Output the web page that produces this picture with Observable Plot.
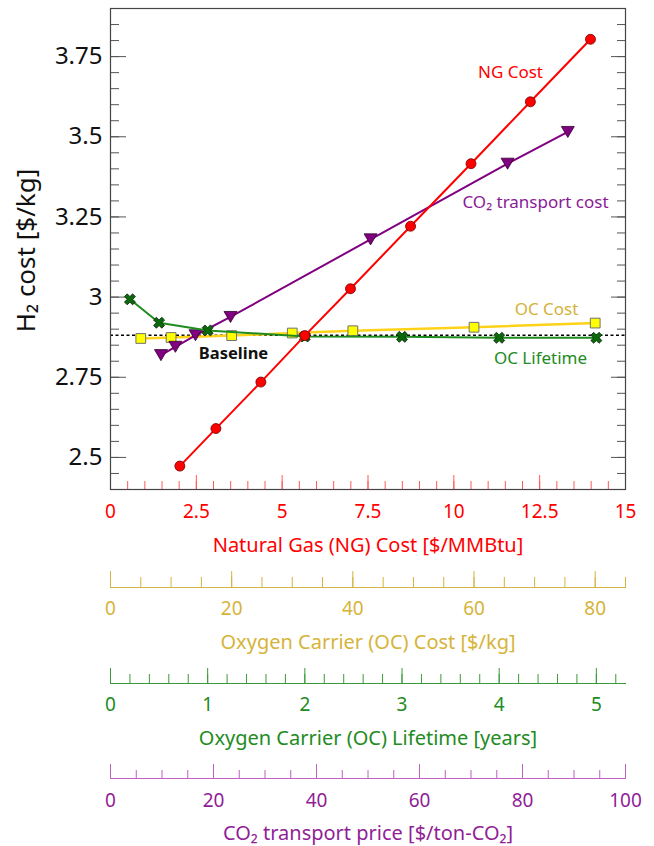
<!DOCTYPE html>
<html><head><meta charset="utf-8">
<script src="https://cdn.jsdelivr.net/npm/d3@7"></script>
<script src="https://cdn.jsdelivr.net/npm/@observablehq/plot@0.6"></script>
<style>
html,body{margin:0;padding:0;background:#fff;overflow:hidden}
#wrap{position:relative;width:654px;height:846px}
</style></head><body><div id="wrap"></div>
<script>
// ---- data ----
const ngCost   = [2.02, 3.07, 4.38, 5.66, 6.99, 8.74, 10.5, 12.23, 13.98];
const ngH2     = [2.473, 2.590, 2.735, 2.880, 3.026, 3.221, 3.416, 3.609, 3.804];
const ocCost   = [5, 10, 20, 30, 40, 60, 80];
const ocH2     = [2.871, 2.874, 2.880, 2.888, 2.895, 2.906, 2.919];
const ocLife   = [0.2, 0.5, 1, 2, 3, 4, 5];
const lifeH2   = [2.993, 2.920, 2.896, 2.877, 2.876, 2.873, 2.873];
const co2Price = [9.8, 12.6, 16.5, 23.3, 50.5, 77.1, 88.8];
const co2H2    = [2.819, 2.845, 2.881, 2.938, 3.180, 3.416, 3.515];
const baselineH2 = 2.881;
const yTicks    = [2.5, 2.75, 3, 3.25, 3.5, 3.75];
const ngTicks   = [0, 2.5, 5, 7.5, 10, 12.5, 15];
const ocTicks   = [0, 20, 40, 60, 80];
const lifeTicks = [0, 1, 2, 3, 4, 5];
const co2Ticks  = [0, 20, 40, 60, 80, 100];
const yMinor    = d3.range(2.45, 3.86, 0.05);
const ngMinor   = d3.range(0, 15.01, 0.5);
const ocMinor   = d3.range(0, 85.01, 5);
const lifeMinor = d3.range(0, 5.21, 0.2);
const co2Minor  = d3.range(0, 100.01, 5);

const FONT = '"Noto Sans", "Open Sans", sans-serif';
const W = 654, MH = 565;
const M = {marginLeft: 110, marginRight: 29, marginTop: 8, marginBottom: 76};
const frameW = W - M.marginLeft - M.marginRight;
const frameH = MH - M.marginTop - M.marginBottom;
const yDomain = [2.4, 3.9];
const RED = "#ff0000";
const TICKFS = 19, TITLEFS = 20, LABELFS = 17;
const wrap = document.getElementById("wrap");
const C = {textAnchor: "middle", lineAnchor: "middle"};

const tbl = (xs, ys) => xs.map((x, i) => ({x, y: ys[i]}));

const downTriangle = {draw(ctx, size) {
  const r = Math.sqrt(size / Math.PI), w = r * 1.08, h = r * 0.92;
  ctx.moveTo(-w, -h); ctx.lineTo(w, -h); ctx.lineTo(0, h); ctx.closePath();
}};
const xCross = {draw(ctx, size) {
  const r = Math.sqrt(size / Math.PI), a = r * 1.0, t = r * 0.34;
  const pts = [[t,a],[t,t],[a,t],[a,-t],[t,-t],[t,-a],[-t,-a],[-t,-t],[-a,-t],[-a,t],[-t,t],[-t,a]];
  pts.forEach(([x, y], i) => {
    const px = (x - y) / Math.SQRT2, py = (x + y) / Math.SQRT2;
    i ? ctx.lineTo(px, py) : ctx.moveTo(px, py);
  });
  ctx.closePath();
}};

// ---- main chart: frame, axes, baseline, labels ----
const main = Plot.plot({
  width: W, height: MH, ...M,
  style: {fontFamily: FONT, background: "white", overflow: "visible"},
  x: {domain: [0, 15], axis: null},
  y: {domain: yDomain, axis: null},
  marks: [
    Plot.ruleY([baselineH2], {stroke: "#000", strokeWidth: 1.3, strokeDasharray: "3,2.5"}),
    Plot.tickY(yMinor, {y: d => d, stroke: "#555", insetRight: frameW - 9}),
    Plot.tickY(yTicks, {y: d => d, stroke: "#555", insetRight: frameW - 16}),
    Plot.tickY(yMinor, {y: d => d, stroke: "#555", insetLeft: frameW - 8}),
    Plot.tickY(yTicks, {y: d => d, stroke: "#555", insetLeft: frameW - 14}),
    Plot.tickX(ngMinor, {x: d => d, stroke: "#ff5a5a", insetTop: frameH - 8}),
    Plot.tickX(ngTicks, {x: d => d, stroke: "#ff5a5a", insetTop: frameH - 14}),
    Plot.frame({stroke: "#444", strokeWidth: 1.2}),
    Plot.text(yTicks, {y: d => d, frameAnchor: "left", dx: -8, textAnchor: "end", lineAnchor: "middle", text: d => String(d), fontSize: 24, fill: "#111"}),
    Plot.text(["H₂ cost [$/kg]"], {...C, frameAnchor: "left", dx: -84, dy: 1.5, rotate: -90, fontSize: 26, fill: "#111"}),
    Plot.text(ngTicks, {...C, x: d => d, frameAnchor: "bottom", dy: 22, text: d => String(d), fill: RED, fontSize: TICKFS}),
    Plot.text(["Natural Gas (NG) Cost [$/MMBtu]"], {...C, frameAnchor: "bottom", dy: 56, fill: RED, fontSize: TITLEFS}),
    Plot.text(["NG Cost"], {...C, frameAnchor: "top-left", dx: 400, dy: 64, fill: RED, fontSize: LABELFS}),
    Plot.text(["CO₂ transport cost"], {...C, frameAnchor: "top-left", dx: 425, dy: 194, fill: "#8a1a96", fontSize: LABELFS}),
    Plot.text(["OC Cost"], {...C, frameAnchor: "top-left", dx: 436, dy: 301.5, fill: "#d4b23a", fontSize: LABELFS}),
    Plot.text(["OC Lifetime"], {...C, frameAnchor: "top-left", dx: 430, dy: 350.5, fill: "#228b22", fontSize: LABELFS}),
    Plot.text(["Baseline"], {...C, frameAnchor: "top-left", dx: 123, dy: 345.5, fill: "#111", fontSize: 16.5, fontWeight: "bold"})
  ]
});
main.style.position = "absolute"; main.style.left = "0px"; main.style.top = "0px";
wrap.appendChild(main);

// ---- series overlays (each with its own x scale) ----
function overlay(xDomain, marks) {
  const svg = Plot.plot({
    width: W, height: MH, ...M,
    style: {fontFamily: FONT, background: "transparent", overflow: "visible"},
    x: {domain: xDomain, axis: null},
    y: {domain: yDomain, axis: null},
    marks
  });
  svg.style.position = "absolute"; svg.style.left = "0px"; svg.style.top = "0px";
  svg.style.pointerEvents = "none";
  wrap.appendChild(svg);
}
const ocData = tbl(ocCost, ocH2), co2Data = tbl(co2Price, co2H2), lifeData = tbl(ocLife, lifeH2), ngData = tbl(ngCost, ngH2);
overlay([0, 85], [
  Plot.line(ocData, {x: "x", y: "y", stroke: "#ffd21a", strokeWidth: 2.5}),
  Plot.dot(ocData, {x: "x", y: "y", symbol: "square", r: 5.5, fill: "#ffff00", stroke: "#707070", strokeWidth: 1})
]);
overlay([0, 100], [
  Plot.line(co2Data, {x: "x", y: "y", stroke: "#800080", strokeWidth: 2}),
  Plot.dot(co2Data, {x: "x", y: "y", symbol: downTriangle, r: 6, fill: "#800080", stroke: "#2e002e", strokeWidth: 0.8})
]);
overlay([0, 5.3], [
  Plot.line(lifeData, {x: "x", y: "y", stroke: "#1e8c1e", strokeWidth: 2}),
  Plot.dot(lifeData, {x: "x", y: "y", symbol: xCross, r: 5.8, fill: "#0a6a0a", stroke: "#0c200c", strokeWidth: 0.8})
]);
overlay([0, 15], [
  Plot.line(ngData, {x: "x", y: "y", stroke: RED, strokeWidth: 2}),
  Plot.dot(ngData, {x: "x", y: "y", r: 5, fill: RED, stroke: "#700000", strokeWidth: 0.8})
]);

// ---- secondary axes ----
function axisChart(top, height, mt, domain, ticks, minor, lineColor, textColor, title, majorLen, minorLen, labelDy, titleDy) {
  const svg = Plot.plot({
    width: W, height, marginLeft: M.marginLeft, marginRight: M.marginRight,
    marginTop: mt, marginBottom: height - mt - majorLen,
    style: {fontFamily: FONT, background: "transparent", overflow: "visible"},
    x: {domain, axis: null},
    marks: [
      Plot.tickX(minor, {x: d => d, stroke: lineColor, insetTop: majorLen - minorLen}),
      Plot.tickX(ticks, {x: d => d, stroke: lineColor}),
      Plot.frame({anchor: "bottom", stroke: lineColor}),
      Plot.text(ticks, {...C, x: d => d, frameAnchor: "bottom", dy: labelDy, text: d => String(d), fill: textColor, fontSize: TICKFS}),
      Plot.text([title], {...C, frameAnchor: "bottom", dy: titleDy, fill: textColor, fontSize: TITLEFS})
    ]
  });
  svg.style.position = "absolute"; svg.style.left = "0px"; svg.style.top = top + "px";
  wrap.appendChild(svg);
}
axisChart(565, 95, 6, [0, 85], ocTicks, ocMinor, "#d2b444", "#d6b43a", "Oxygen Carrier (OC) Cost [$/kg]", 16, 10, 21, 55);
axisChart(660, 95, 8, [0, 5.3], lifeTicks, lifeMinor, "#3a9a3a", "#228b22", "Oxygen Carrier (OC) Lifetime [years]", 15, 9, 21, 55);
axisChart(755, 91, 9, [0, 100], co2Ticks, co2Minor, "#c060c0", "#901e96", "CO₂ transport price [$/ton-CO₂]", 14, 8, 22, 55);
</script></body></html>
